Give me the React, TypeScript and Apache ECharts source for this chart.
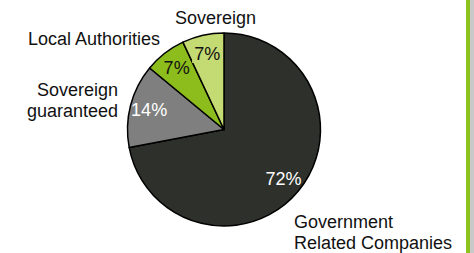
import React, { useEffect, useRef } from "react";
import * as echarts from "echarts";

const categories = [
  "Government\nRelated Companies",
  "Sovereign\nguaranteed",
  "Local Authorities",
  "Sovereign",
];
const shares = [72, 14, 7, 7];
const sliceColors = ["#2e312b", "#7f7f7f", "#8cbd1c", "#c4da72"];
const pctColors = ["#ffffff", "#ffffff", "#111111", "#111111"];

const FONT = "Liberation Sans, Arial, Helvetica, sans-serif";
const CX = 224;
const CY = 129.5;
const R = 96.5;

// name label anchors (x, y, align)
const namePos: [number, number, string][] = [
  [294, 232.5, "left"],
  [118, 100, "right"],
  [28, 39, "left"],
  [175, 18, "left"],
];

export default function App() {
  const ref = useRef<HTMLDivElement>(null);
  useEffect(() => {
    if (!ref.current) return;
    const chart = echarts.init(ref.current, null, { renderer: "svg" });
    const option = {
      animation: false,
      backgroundColor: "#ffffff",
      series: [
        {
          type: "pie",
          center: [CX, CY],
          radius: [0, R],
          startAngle: 90,
          clockwise: true,
          silent: true,
          label: { show: false },
          labelLine: { show: false },
          itemStyle: { borderColor: "#000000", borderWidth: 1.5 },
          data: shares.map((v, i) => ({
            name: categories[i],
            value: v,
            itemStyle: { color: sliceColors[i] },
          })),
        },
        {
          type: "pie",
          center: [CX, CY],
          radius: [R * 0.54, R],
          startAngle: 90,
          clockwise: true,
          silent: true,
          z: 5,
          labelLine: { show: false },
          itemStyle: { color: "transparent", borderWidth: 0 },
          label: {
            show: true,
            position: "inside",
            formatter: "{c}%",
            fontFamily: FONT,
            fontSize: 18,
          },
          data: shares.map((v, i) => ({
            name: categories[i],
            value: v,
            label:
              i === 3
                ? {
                    color: pctColors[i],
                    backgroundColor: sliceColors[i],
                    padding: [0, 2],
                  }
                : { color: pctColors[i] },
          })),
        },
      ],
      graphic: [
        ...categories.map((c, i) => ({
          type: "text",
          x: namePos[i][0],
          y: namePos[i][1],
          style: {
            text: c,
            fill: "#111111",
            font: `18px ${FONT}`,
            lineHeight: 21,
            align: namePos[i][2],
            verticalAlign: "middle",
          },
        })),
        {
          type: "rect",
          shape: { x: 466, y: 0, width: 4, height: 253 },
          style: { fill: "#8dc21f" },
        },
        {
          type: "rect",
          shape: { x: 470, y: 0, width: 4, height: 253 },
          style: { fill: "#c9c9c9" },
        },
      ],
    };
    chart.setOption(option as any);
    return () => chart.dispose();
  }, []);
  return (
    <div
      ref={ref}
      style={{ position: "fixed", left: 0, top: 0, width: 474, height: 253 }}
    />
  );
}
